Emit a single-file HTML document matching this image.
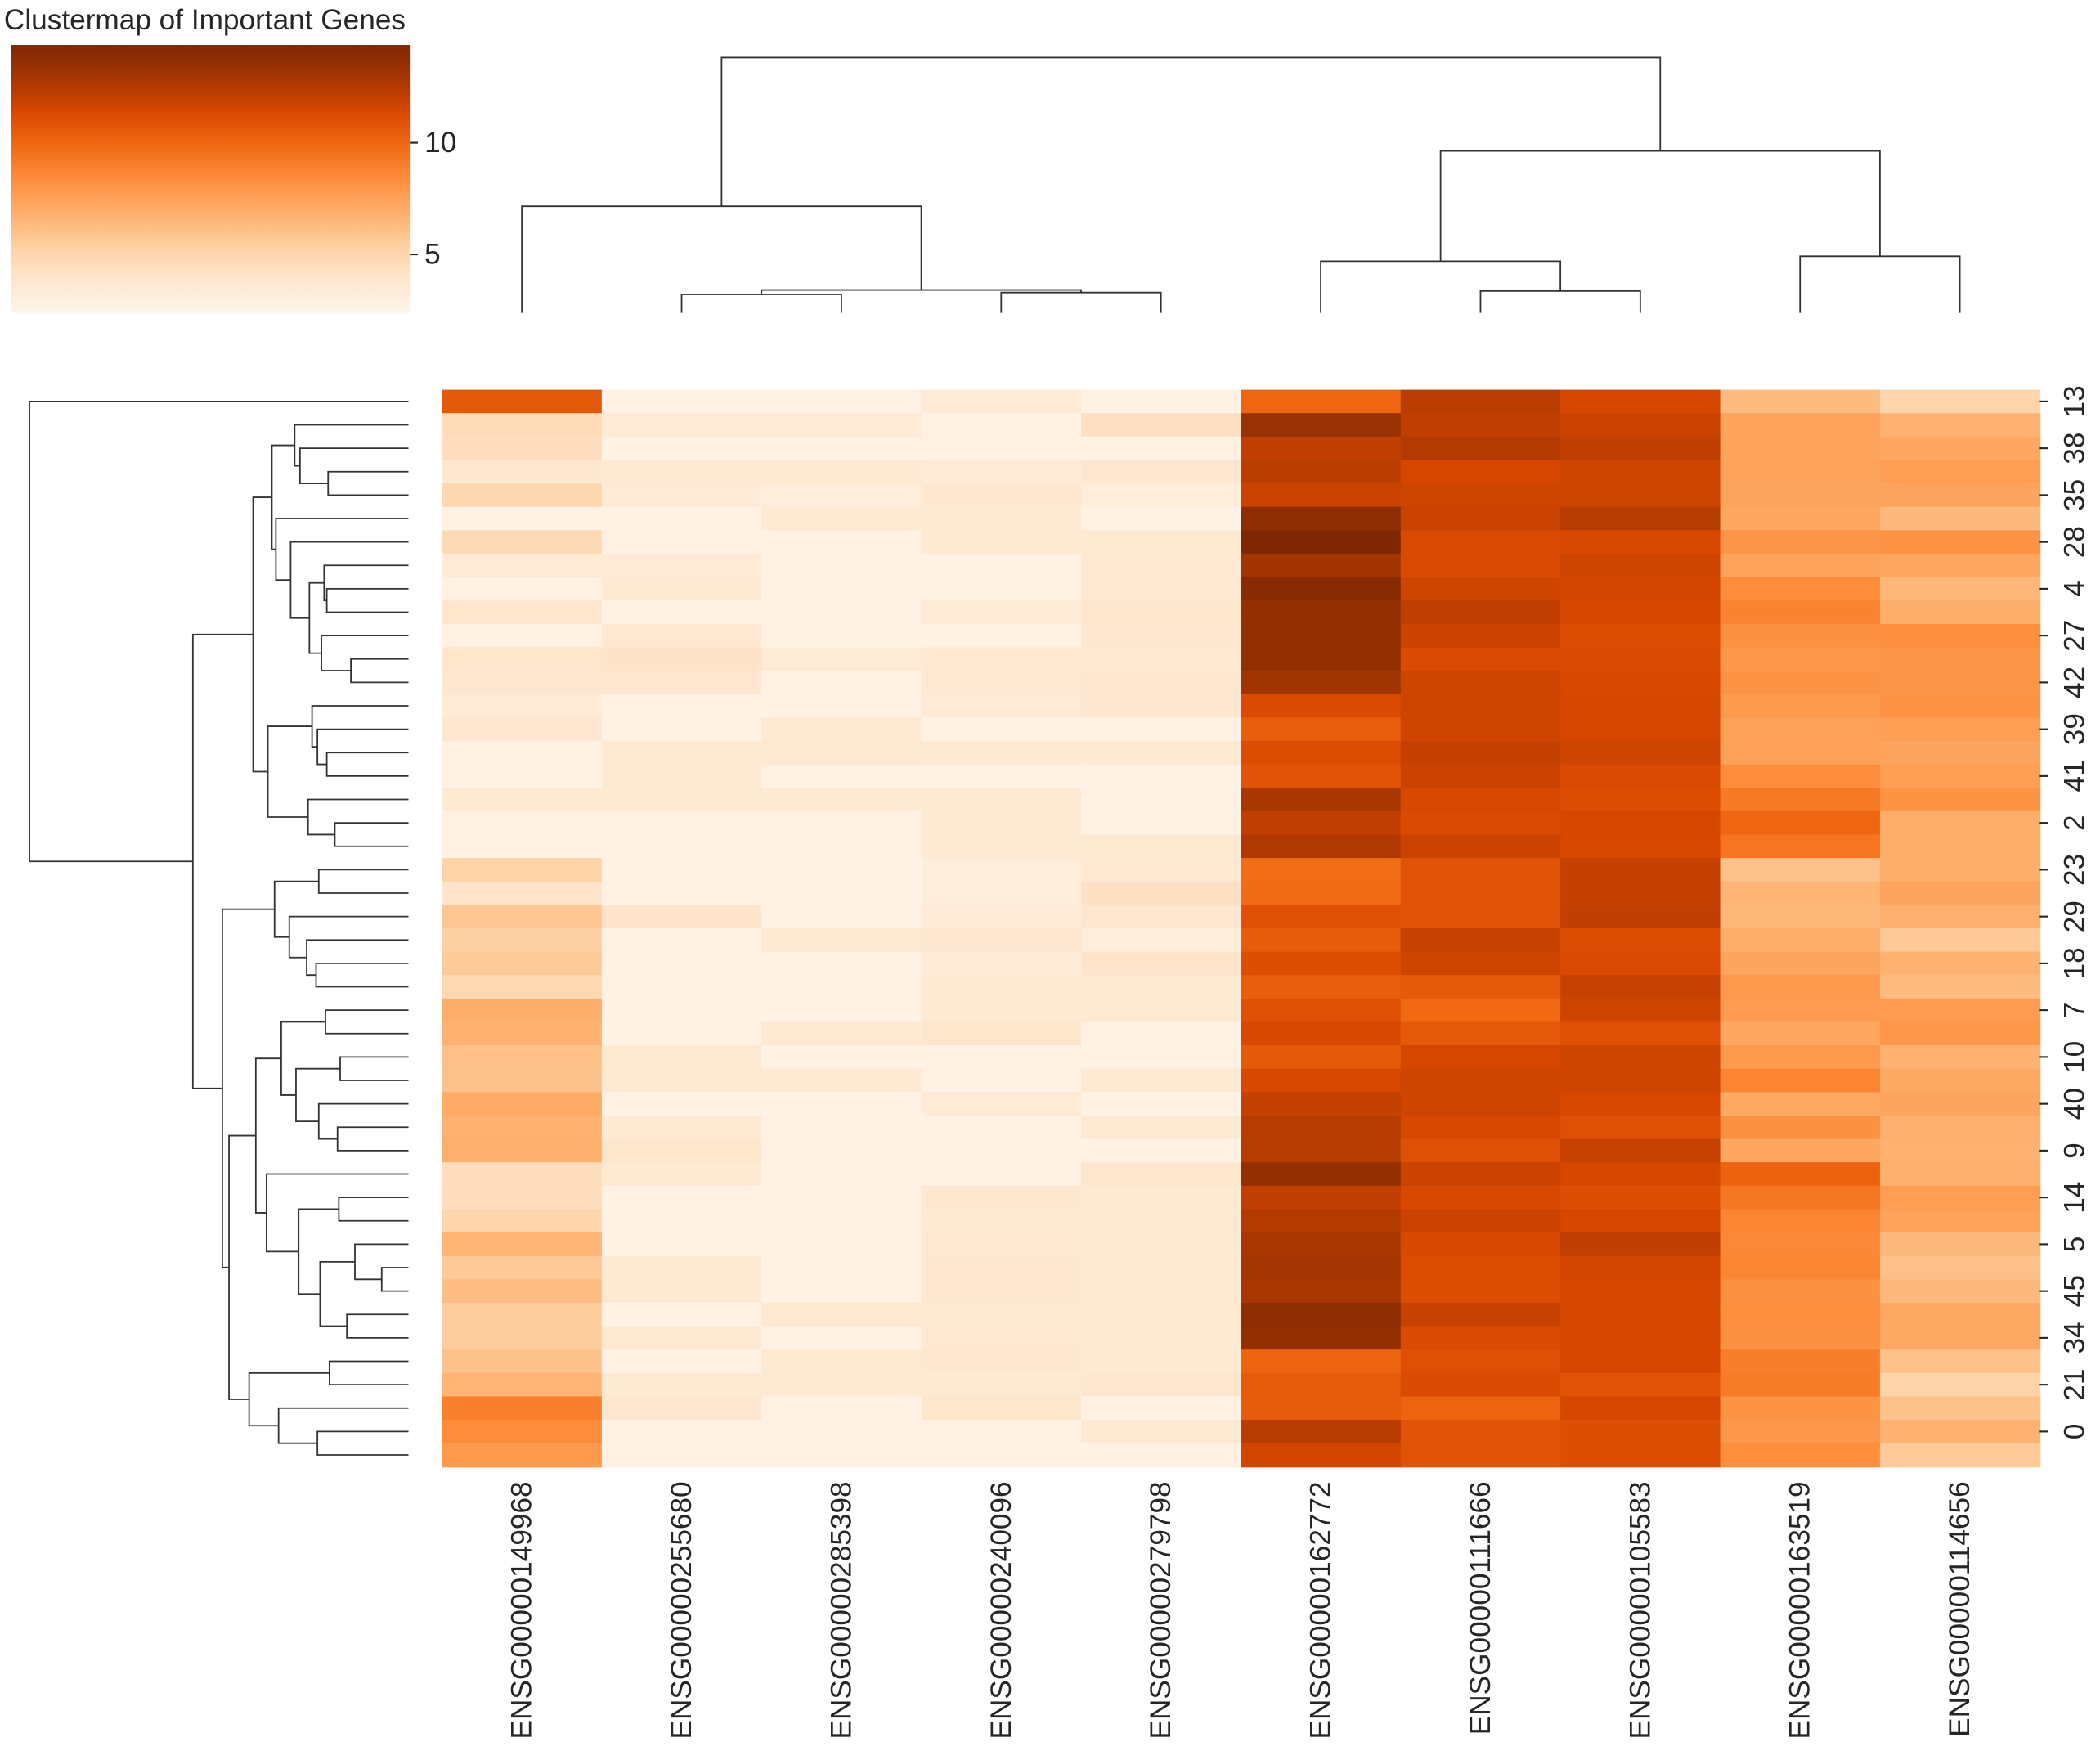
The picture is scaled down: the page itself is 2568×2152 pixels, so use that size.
<!DOCTYPE html>
<html><head><meta charset="utf-8">
<style>html,body{margin:0;padding:0;background:#fff;}svg{display:block;font-family:"Liberation Sans",sans-serif;}</style>
</head><body>
<svg id="chart" width="2568" height="2152" viewBox="0 0 1568 1314" xmlns="http://www.w3.org/2000/svg">
<defs>
<linearGradient id="cbgrad" x1="0" y1="1" x2="0" y2="0">
<stop offset="0" stop-color="#fff5eb"/><stop offset="0.125" stop-color="#fee6ce"/><stop offset="0.25" stop-color="#fdd0a2"/><stop offset="0.375" stop-color="#fdae6b"/><stop offset="0.5" stop-color="#fd8d3c"/><stop offset="0.625" stop-color="#f16913"/><stop offset="0.75" stop-color="#d94801"/><stop offset="0.875" stop-color="#a63603"/><stop offset="1" stop-color="#7f2704"/>
</linearGradient>
</defs>
<text x="3" y="22" font-size="21.5" fill="#262626">Clustermap of Important Genes</text>
<rect x="8" y="33.6" width="298" height="200" fill="url(#cbgrad)"/>
<g id="cbticks"></g>
<g id="coldendro"></g>
<g id="rowdendro"></g>
<g id="heat"></g>
<g id="rowlabels"></g>
<g id="collabels"></g>
</svg>
<script>
const colLabels = ["ENSG00000149968","ENSG00000255680","ENSG00000285398","ENSG00000240096","ENSG00000279798","ENSG00000162772","ENSG00000111666","ENSG00000105583","ENSG00000163519","ENSG00000114656"];
const rowLabels = ["13","38","35","28","4","27","42","39","41","2","23","29","18","7","10","40","9","14","5","45","34","21","0"];
const values = [
[10.6,2.8,2.8,3.4,2.7,10.0,12.3,11.5,6.3,5.0],
[4.6,3.5,3.4,2.7,4.3,13.4,12.1,11.8,7.4,6.7],
[4.4,2.7,2.7,2.7,2.7,12.1,12.5,12.1,7.4,7.2],
[3.8,3.6,3.6,3.3,3.8,12.3,11.5,11.7,7.4,7.6],
[4.9,3.4,3.2,3.8,3.2,11.8,11.7,11.7,7.3,7.3],
[2.7,2.7,3.6,3.6,2.7,13.8,11.8,12.4,7.2,6.4],
[4.7,2.8,2.8,3.6,3.6,14.5,11.3,11.4,8.0,8.1],
[3.5,3.5,2.8,2.8,3.7,13.0,11.3,11.7,7.4,7.2],
[2.8,3.6,2.8,2.8,3.7,14.0,11.7,11.6,8.4,6.5],
[3.9,2.8,2.8,3.4,3.9,13.6,12.1,11.5,8.8,6.9],
[2.8,3.7,2.8,2.8,3.8,13.6,11.8,11.2,8.2,8.3],
[3.9,4.1,3.5,3.7,3.7,13.6,11.3,11.3,7.9,8.0],
[3.8,3.8,2.8,3.7,3.8,13.1,11.7,11.4,8.1,8.0],
[3.5,2.8,2.8,3.5,3.8,11.3,11.7,11.5,7.8,8.1],
[3.8,2.8,3.6,2.7,2.7,10.4,11.7,11.5,7.5,7.6],
[2.8,3.6,3.7,3.6,3.6,11.2,12.0,11.7,7.5,7.3],
[2.8,3.6,2.8,2.8,2.8,10.9,11.8,11.3,8.4,7.6],
[3.6,3.6,3.6,3.6,2.8,12.8,11.4,11.2,9.2,8.1],
[2.8,2.8,2.8,3.6,2.7,12.1,11.3,11.5,10.0,6.9],
[2.8,2.8,2.8,3.6,3.6,12.6,11.8,11.4,9.4,6.9],
[5.2,2.8,2.8,3.2,3.7,9.7,10.9,12.0,6.0,6.9],
[4.0,2.8,2.8,3.2,4.2,9.8,10.9,12.0,6.6,7.3],
[5.8,4.0,2.8,3.3,3.8,11.0,10.9,12.1,6.5,6.8],
[5.3,2.8,3.6,3.8,3.2,10.5,11.9,11.2,6.9,5.7],
[5.6,2.8,2.8,3.3,4.0,11.1,11.7,11.3,7.3,6.7],
[4.8,2.8,2.8,3.6,3.6,10.4,10.6,11.9,7.8,6.3],
[6.9,2.8,2.8,3.6,3.6,11.0,9.9,11.7,7.7,7.7],
[6.7,2.8,3.6,3.9,2.8,11.4,10.6,11.0,7.2,7.9],
[6.1,3.6,2.8,2.8,2.8,10.6,11.5,11.7,7.8,6.7],
[6.0,3.6,3.6,2.8,3.6,11.4,11.7,11.7,8.7,7.1],
[7.0,2.8,2.8,3.4,2.8,12.0,11.7,11.4,7.1,7.3],
[6.7,3.6,2.8,2.8,3.6,12.4,11.4,11.0,8.2,6.8],
[6.8,3.9,2.8,2.8,2.7,12.4,11.0,11.9,7.2,6.7],
[4.5,3.6,2.8,2.8,3.9,13.6,11.8,11.5,10.2,6.8],
[4.4,2.8,2.8,3.8,3.6,12.1,11.4,11.1,9.3,7.6],
[5.0,2.8,2.8,3.6,3.6,12.5,11.8,11.5,8.7,7.4],
[6.6,2.8,2.8,3.7,3.6,12.8,11.4,12.1,8.6,6.4],
[5.7,3.6,2.8,3.8,3.6,12.9,11.2,11.6,8.7,6.1],
[6.2,3.6,2.8,3.8,3.6,12.8,11.2,11.5,8.2,6.4],
[5.5,2.8,3.7,3.6,3.6,13.8,11.9,11.5,8.3,7.1],
[5.5,3.6,2.7,3.7,3.6,13.6,11.3,11.5,8.2,7.1],
[6.0,2.8,3.6,3.8,3.6,10.1,11.0,11.5,9.0,6.0],
[6.6,3.6,3.6,3.6,3.8,10.5,11.3,10.9,9.1,5.1],
[8.9,3.8,2.8,3.9,2.7,10.5,10.1,11.5,8.1,6.0],
[8.4,2.8,2.8,2.8,3.6,12.4,10.9,11.1,7.9,6.7],
[7.8,2.8,2.8,2.8,2.8,11.6,10.9,11.1,8.3,5.6]
];
const cbTicks = [5, 10];
const colLinkA = [1,3,10,0,6,5,8,15,13];
const colLinkB = [2,4,11,12,7,14,9,16,17];
const colLinkDist = [13.8,15.2,17.1,79.6,16.3,38.6,42.3,120.9,190.6];
const rowLinkA = [3,2,1,8,7,11,10,50,6,5,48,15,14,13,18,17,59,56,24,23,22,20,67,26,28,31,30,70,69,34,37,36,39,77,75,33,74,41,44,43,83,82,68,63,0];
const rowLinkB = [4,46,47,9,49,12,51,52,53,54,55,16,57,58,19,60,61,62,25,64,65,21,66,27,29,32,71,72,73,35,38,76,40,78,79,80,81,42,45,84,85,86,87,88,89];
const rowLinkDist = [60,81,85,61,63,43,65,74,88,99,102,61,68,72,55,75,105,116,69,76,89,67,100,62,51,53,67,84,95,52,20,40,46,66,82,106,114,59,68,97,119,134,139,161,283];

const NS = "http://www.w3.org/2000/svg";
const VMIN = 2.38, VMAX = 14.38;
const HX0 = 330, HX1 = 1523, HY0 = 291, HY1 = 1095;
const FS = 21.5;
const nCols = colLabels.length, nRows = values.length;
const cw = (HX1 - HX0) / nCols, rh = (HY1 - HY0) / nRows;
const xCol = j => HX0 + cw * j;
const yRow = i => HY0 + rh * i;
const cbY = v => 233.6 - (v - VMIN) / (VMAX - VMIN) * 200;
const colDendY = d => 233.6 - d;
const rowDendX = d => 305 - d;
const stops = [[255,245,235],[254,230,206],[253,208,162],[253,174,107],[253,141,60],[241,105,19],[217,72,1],[166,54,3],[127,39,4]];
function cmap(v){
  let f = Math.max(0, Math.min(1, (v - VMIN) / (VMAX - VMIN))) * 8;
  const i = Math.min(7, Math.floor(f)); const t = f - i;
  const c = stops[i].map((a, k) => Math.round(a + (stops[i+1][k] - a) * t));
  return `rgb(${c[0]},${c[1]},${c[2]})`;
}
function mk(tag, attrs, parent){
  const e = document.createElementNS(NS, tag);
  for (const k in attrs) e.setAttribute(k, attrs[k]);
  parent.appendChild(e); return e;
}
const heat = document.getElementById('heat');
values.forEach((row, i) => row.forEach((v, j) => {
  const r = mk('rect', {x: xCol(j), y: yRow(i), width: cw + 0.6, height: rh + 0.6, fill: cmap(v)}, heat);
  
  
}));
const cbt = document.getElementById('cbticks');
cbTicks.forEach(t => {
  const y = cbY(t);
  const l = mk('line', {x1: 306, x2: 312, y1: y, y2: y, stroke: '#262626', 'stroke-width': 1.3}, cbt);
  
  
  const tx = mk('text', {x: 317, y: y, 'font-size': FS, fill: '#262626', 'dominant-baseline': 'central'}, cbt);
  tx.textContent = String(t);
  
  
});
const rl = document.getElementById('rowlabels');
rowLabels.forEach((lab, k) => {
  const cy = yRow(2 * k) + rh / 2;
  const l = mk('line', {x1: HX1, x2: HX1 + 6, y1: cy, y2: cy, stroke: '#262626', 'stroke-width': 1.3}, rl);
  
  
  const t = mk('text', {transform: `translate(1549,${cy}) rotate(-90)`, 'font-size': FS, fill: '#262626', 'text-anchor': 'middle', 'dominant-baseline': 'central'}, rl);
  t.textContent = lab;
  
  
});
const cl = document.getElementById('collabels');
colLabels.forEach((lab, j) => {
  const cx = xCol(j) + cw / 2;
  const t = mk('text', {transform: `translate(${cx},1106) rotate(-90)`, 'font-size': FS, fill: '#262626', 'text-anchor': 'end', 'dominant-baseline': 'central'}, cl);
  t.textContent = lab;
  
  
});
const cd = document.getElementById('coldendro');
const cPos = [], cH = [];
for (let j = 0; j < nCols; j++){ cPos.push(xCol(j) + cw / 2); cH.push(0); }
colLinkA.forEach((a, k) => {
  const b = colLinkB[k], d = colLinkDist[k];
  const xa = cPos[a], xb = cPos[b];
  const p = mk('path', {d: `M${xa},${colDendY(cH[a])}V${colDendY(d)}H${xb}V${colDendY(cH[b])}`, fill: 'none', stroke: '#333', 'stroke-width': 1.1}, cd);
  
  
  cPos.push((xa + xb) / 2); cH.push(d);
});
const rd = document.getElementById('rowdendro');
const rPos = [], rH = [];
for (let i = 0; i < nRows; i++){ rPos.push(yRow(i) + rh / 2); rH.push(0); }
rowLinkA.forEach((a, k) => {
  const b = rowLinkB[k], d = rowLinkDist[k];
  const ya = rPos[a], yb = rPos[b];
  const p = mk('path', {d: `M${rowDendX(rH[a])},${ya}H${rowDendX(d)}V${yb}H${rowDendX(rH[b])}`, fill: 'none', stroke: '#333', 'stroke-width': 1.1}, rd);
  
  
  rPos.push((ya + yb) / 2); rH.push(d);
});
</script>
</body></html>
